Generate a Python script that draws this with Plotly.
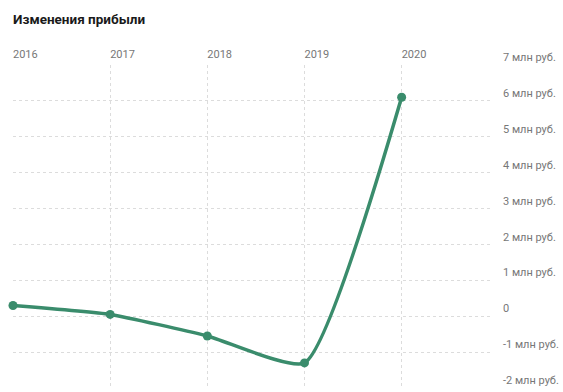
import plotly.graph_objects as go

years = [2016, 2017, 2018, 2019, 2020]
profit = [0.3, 0.05, -0.55, -1.3, 6.1]
y_ticks = [7, 6, 5, 4, 3, 2, 1, 0, -1, -2]
y_labels = ["7 млн руб.", "6 млн руб.", "5 млн руб.", "4 млн руб.", "3 млн руб.",
            "2 млн руб.", "1 млн руб.", "0", "-1 млн руб.", "-2 млн руб."]
title = "Изменения прибыли"

color = "#3a8c6c"
font = "Roboto, sans-serif"

fig = go.Figure()
fig.add_trace(go.Scatter(
    x=years, y=profit, mode="lines+markers",
    line=dict(color=color, width=3.5, shape="spline", smoothing=0.5),
    marker=dict(color=color, size=9),
    cliponaxis=False, hoverinfo="skip", showlegend=False,
))

fig.update_layout(
    width=563, height=392,
    margin=dict(l=13, r=66, t=65, b=4),
    paper_bgcolor="white", plot_bgcolor="white",
    title=dict(text="<b>" + title + "</b>", x=0, xref="paper", xanchor="left",
               y=1, yref="container", yanchor="top", pad=dict(t=15, l=0),
               font=dict(family=font, size=13.5, color="#1a1a1a")),
    xaxis=dict(
        range=[2016, 2020.93], side="top", tickvals=years,
        ticktext=[str(y) for y in years], ticklabelposition="outside right",
        showgrid=True, gridcolor="#dcdcdc", griddash="dot", gridwidth=1,
        zeroline=False, showline=False, ticks="", ticklabelstandoff=4,
        tickfont=dict(family=font, size=11, color="#777"),
    ),
    yaxis=dict(
        range=[-2, 7], side="right", tickvals=y_ticks, ticktext=y_labels,
        showgrid=True, gridcolor="#dcdcdc", griddash="dot", gridwidth=1,
        zeroline=False, showline=False, ticks="", ticklabelstandoff=10,
        ticklabelposition="outside top",
        tickfont=dict(family=font, size=11, color="#777"),
    ),
)

fig.write_html("out.html")
